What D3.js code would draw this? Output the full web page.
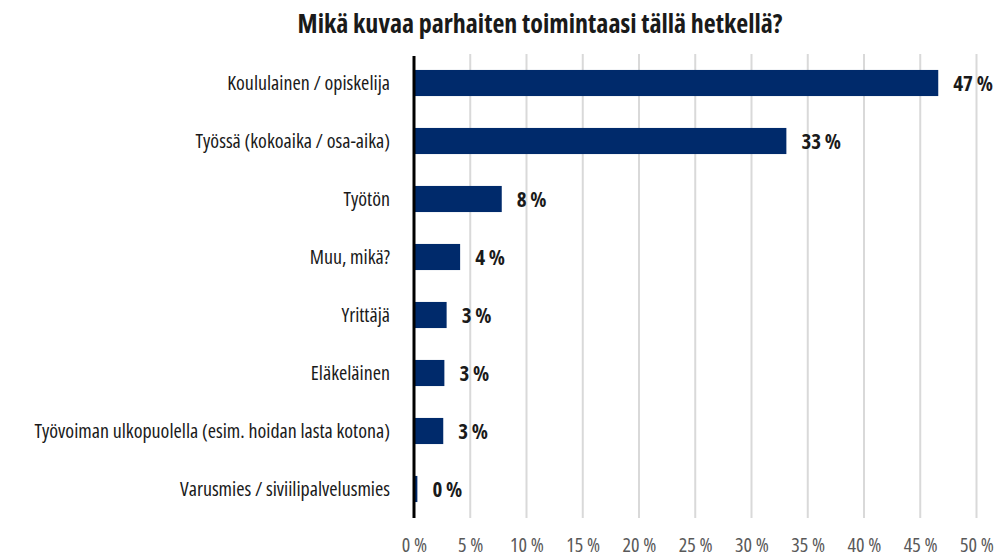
<!DOCTYPE html>
<html>
<head>
<meta charset="utf-8">
<script src="https://cdn.jsdelivr.net/npm/d3@7/dist/d3.min.js"></script>
<style>
  html, body { margin: 0; padding: 0; background: #ffffff; }
  svg { display: block; }
</style>
</head>
<body>
<svg id="chart" width="995" height="557"></svg>
<script>
// Survey answers: current main activity
const categories = [
  "Koululainen / opiskelija",
  "Työssä (kokoaika / osa-aika)",
  "Työtön",
  "Muu, mikä?",
  "Yrittäjä",
  "Eläkeläinen",
  "Työvoiman ulkopuolella (esim. hoidan lasta kotona)",
  "Varusmies / siviilipalvelusmies"
];
const shares = [46.6, 33.1, 7.8, 4.1, 2.9, 2.7, 2.6, 0.3];
const tickValues = [0, 5, 10, 15, 20, 25, 30, 35, 40, 45, 50];
const title = "Mikä kuvaa parhaiten toimintaasi tällä hetkellä?";

const svg = d3.select("#chart");
const W = 995, H = 557;

// pick a narrow face: prefer a condensed width of an installed family
function measure(family, stretch, size, weight, str) {
  const t = svg.append("text")
    .style("font-family", family).style("font-stretch", stretch)
    .style("font-size", size + "px").style("font-weight", weight)
    .text(str);
  const w = t.node().getComputedTextLength();
  t.remove();
  return w;
}
const sample = "Työvoiman ulkopuolella (esim. hoidan lasta kotona)";
const candidates = [
  ["'Open Sans'", "75%"],
  ["'Noto Sans'", "62.5%"],
  ["'DejaVu Sans'", "condensed"],
  ["'Liberation Sans Narrow'", "normal"]
];
let face = ["'Liberation Sans'", "normal"];
for (const [fam, st] of candidates) {
  const narrow = measure(fam, st, 20, 400, sample);
  const wide = measure(fam, "normal", 20, 400, sample);
  if (narrow < wide * 0.93) { face = [fam, st]; break; }
}
const FONT = face[0] + ", 'Liberation Sans', sans-serif";
const STRETCH = face[1];

// font size giving a wanted width for a given string
function sizeFor(str, target, weight) {
  const w = measure(FONT, STRETCH, 20, weight, str);
  return Math.min(26, 20 * target / w);
}
const labelSize = Math.min(20, sizeFor(sample, 380, 400));
const valueSize = Math.min(21, sizeFor("8 %", 30, 700));
const tickSize = Math.min(20, sizeFor("10 %", 36, 400));
const titleSize = sizeFor(title, 500, 700);

const margin = { left: 414, right: 18, top: 54, bottom: 39 };
const x = d3.scaleLinear().domain([0, 50]).range([margin.left, W - margin.right - 0.5]);
const y = d3.scaleBand().domain(categories).range([margin.top, H - margin.bottom]).paddingInner(0.55).paddingOuter(0.275);

function styleText(sel, size, weight, color) {
  sel.style("font-family", FONT).style("font-stretch", STRETCH)
    .style("font-size", size + "px").style("font-weight", weight).attr("fill", color);
}

// vertical gridlines
svg.append("g")
  .selectAll("line")
  .data(tickValues.filter(d => d > 0))
  .join("line")
  .attr("x1", d => x(d)).attr("x2", d => x(d))
  .attr("y1", margin.top).attr("y2", H - margin.bottom)
  .attr("stroke", "#d9d9d9").attr("stroke-width", 2);

// bars
svg.append("g")
  .selectAll("rect")
  .data(shares)
  .join("rect")
  .attr("x", x(0))
  .attr("y", (d, i) => y(categories[i]))
  .attr("width", d => x(d) - x(0))
  .attr("height", y.bandwidth())
  .attr("fill", "#002a6b");

// baseline
svg.append("line")
  .attr("x1", x(0)).attr("x2", x(0))
  .attr("y1", margin.top + 2).attr("y2", H - margin.bottom)
  .attr("stroke", "#000").attr("stroke-width", 3);

// value labels
svg.append("g")
  .selectAll("text")
  .data(shares)
  .join("text")
  .attr("x", d => x(d) + 15)
  .attr("y", (d, i) => y(categories[i]) + y.bandwidth() / 2)
  .attr("dy", "0.36em")
  .text(d => Math.round(d) + " %")
  .call(styleText, valueSize, 700, "#1a1a1a");

// category axis
const yAxis = d3.axisLeft(y).tickSize(0).tickPadding(24);
const gy = svg.append("g").attr("transform", `translate(${x(0)},0)`).call(yAxis);
gy.select(".domain").remove();
gy.selectAll("text").attr("dy", "0.36em").call(styleText, labelSize, 400, "#1a1a1a");

// value axis, labels close to the bottom edge
const xAxis = d3.axisBottom(x).tickValues(tickValues).tickSize(0).tickPadding(0).tickFormat(d => d + " %");
const gx = svg.append("g").attr("transform", `translate(0,${H - margin.bottom})`).call(xAxis);
gx.select(".domain").remove();
gx.selectAll("text").attr("y", margin.bottom - 5).attr("dy", 0).call(styleText, tickSize, 400, "#595959");

// title
svg.append("text")
  .attr("x", 540)
  .attr("y", 33)
  .attr("text-anchor", "middle")
  .text(title)
  .call(styleText, titleSize, 700, "#1a1a1a");
</script>
</body>
</html>
